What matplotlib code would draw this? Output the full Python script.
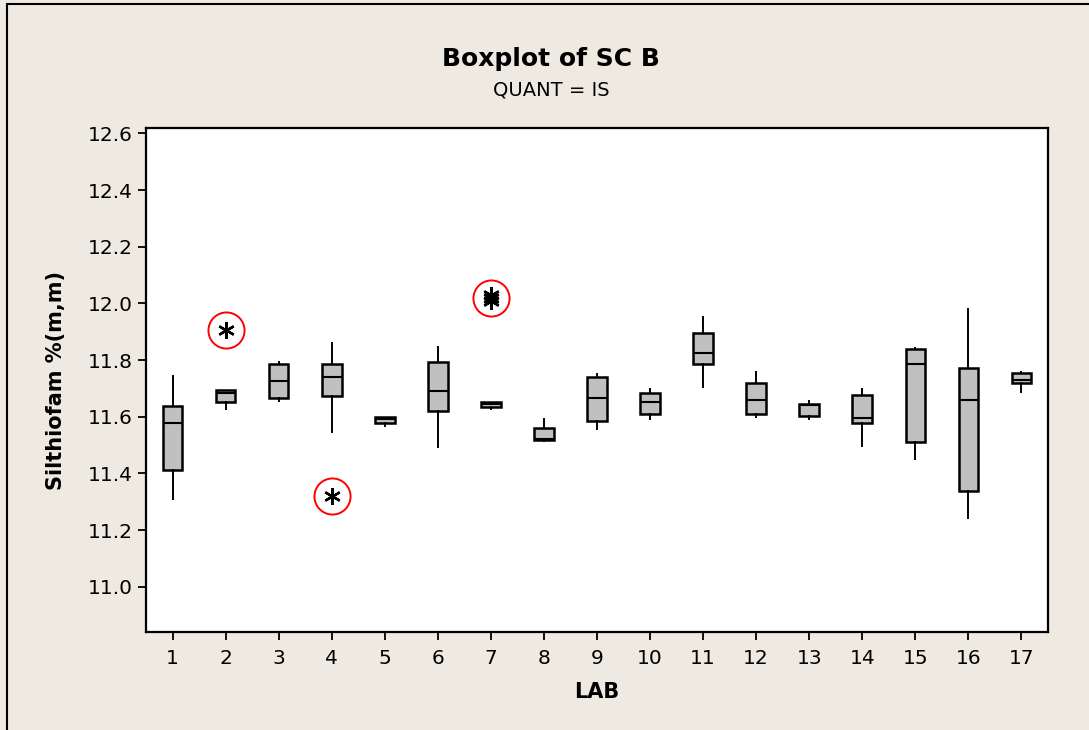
import numpy as np
import matplotlib
matplotlib.use('Agg')
import matplotlib.pyplot as plt
from matplotlib.patches import Rectangle

# valores (por laboratório)
labs = list(range(1, 18))
whislo = [11.311, 11.626, 11.654, 11.546, 11.567, 11.493, 11.626, 11.513, 11.558,
          11.593, 11.705, 11.599, 11.593, 11.498, 11.452, 11.243, 11.687]
q1 = [11.411, 11.652, 11.666, 11.672, 11.579, 11.619, 11.633, 11.518, 11.585,
      11.610, 11.786, 11.611, 11.603, 11.579, 11.511, 11.336, 11.719]
med = [11.578, 11.685, 11.727, 11.739, 11.591, 11.692, 11.645, 11.521, 11.666,
       11.652, 11.826, 11.659, 11.641, 11.595, 11.786, 11.659, 11.731]
q3 = [11.639, 11.694, 11.787, 11.786, 11.599, 11.793, 11.652, 11.559, 11.740,
      11.685, 11.894, 11.720, 11.645, 11.678, 11.840, 11.773, 11.754]
whishi = [11.744, 11.694, 11.792, 11.859, 11.600, 11.845, 11.652, 11.591, 11.751,
          11.698, 11.953, 11.758, 11.657, 11.698, 11.843, 11.979, 11.758]
outliers = {2: [11.907], 4: [11.320], 7: [12.030, 12.020, 12.010]}

bg = '#EEEAE1'
plt.rcParams['font.family'] = 'DejaVu Sans'

fig = plt.figure(figsize=(10.89, 7.30), dpi=100, facecolor=bg)
fig.patches.append(Rectangle((7/1089, -0.1), 1.2, 1 - 4/730 + 0.1, transform=fig.transFigure,
                             fill=False, edgecolor='black', linewidth=1.5))
ax = fig.add_axes([146/1089, 1 - 632/730, 902/1089, 504/730])

stats = []
for i in range(len(labs)):
    stats.append(dict(med=med[i], q1=q1[i], q3=q3[i], whislo=whislo[i], whishi=whishi[i],
                      fliers=outliers.get(labs[i], [])))

ax.bxp(stats, positions=labs, widths=0.37, patch_artist=True, showcaps=False,
       boxprops=dict(facecolor='#C0C0C0', edgecolor='black', linewidth=1.8),
       medianprops=dict(color='black', linewidth=1.5),
       whiskerprops=dict(color='black', linewidth=1.4),
       flierprops=dict(marker=(6, 2, 0), markersize=12, markeredgecolor='black',
                       markeredgewidth=1.7, linestyle='none'))

# círculos vermelhos em volta dos outliers
for lab, vals in outliers.items():
    ax.plot(lab, np.mean(vals), marker='o', markersize=26, markerfacecolor='none',
            markeredgecolor='red', markeredgewidth=1.4)

ax.set_xlim(0.5, 17.5)
ax.set_ylim(10.840, 12.619)
ax.set_yticks(np.arange(11.0, 12.61, 0.2))
ax.set_yticklabels(['%.1f' % v for v in np.arange(11.0, 12.61, 0.2)])
ax.set_xticks(labs)
ax.set_xticklabels([str(l) for l in labs])
ax.tick_params(axis='both', direction='out', length=6, width=1.3, labelsize=14.5, color='black')
ax.tick_params(axis='x', pad=6)
for s in ax.spines.values():
    s.set_linewidth(1.6)

ax.set_xlabel('LAB', fontsize=15, fontweight='bold', labelpad=10)
ax.set_ylabel('Silthiofam %(m,m)', fontsize=15, fontweight='bold', labelpad=16)

fig.text(551/1089, 1 - 66/730, 'Boxplot of SC B', ha='center', va='baseline',
         fontsize=18, fontweight='bold')
fig.text(551/1089, 1 - 95/730, 'QUANT = IS', ha='center', va='baseline', fontsize=14)

fig.savefig('out.png', dpi=100, facecolor=bg)
